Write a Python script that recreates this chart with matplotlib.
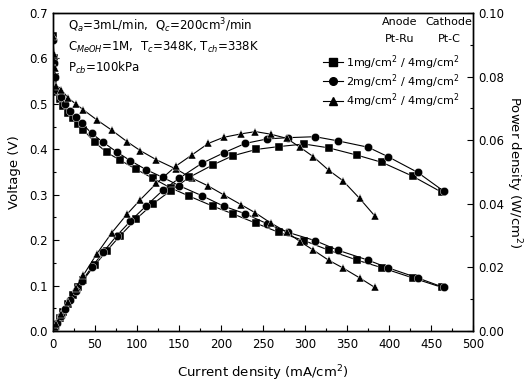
import matplotlib
matplotlib.use("Agg")
import matplotlib.pyplot as plt
from matplotlib.lines import Line2D
from matplotlib.ticker import MultipleLocator

# ---- data ----
series_labels = ["1mg/cm$^2$ / 4mg/cm$^2$", "2mg/cm$^2$ / 4mg/cm$^2$", "4mg/cm$^2$ / 4mg/cm$^2$"]
markers = ["s", "o", "^"]

I1 = [0, 1, 2, 4, 8, 12, 18, 24, 30, 36, 50, 64, 80, 99, 119, 140, 162, 190, 214, 242, 269, 299, 328, 362, 392, 428, 463]
V1 = [0.65, 0.60, 0.56, 0.525, 0.51, 0.495, 0.48, 0.468, 0.455, 0.443, 0.415, 0.393, 0.376, 0.356, 0.336, 0.315, 0.297, 0.275, 0.258, 0.237, 0.217, 0.199, 0.178, 0.156, 0.139, 0.117, 0.096]
P1 = [0.0, 0.0006, 0.0011, 0.0021, 0.0041, 0.0059, 0.0086, 0.0112, 0.0137, 0.016, 0.0208, 0.0252, 0.030, 0.0352, 0.040, 0.0441, 0.0483, 0.0522, 0.0551, 0.0571, 0.058, 0.0588, 0.0576, 0.0553, 0.053, 0.0487, 0.0436]

I2 = [0, 1, 2, 5, 9, 14, 20, 27, 34, 46, 60, 76, 92, 111, 131, 150, 177, 203, 229, 255, 280, 312, 339, 375, 399, 434, 465]
V2 = [0.64, 0.59, 0.56, 0.53, 0.515, 0.50, 0.485, 0.47, 0.458, 0.435, 0.415, 0.394, 0.375, 0.355, 0.338, 0.32, 0.298, 0.275, 0.258, 0.236, 0.217, 0.199, 0.178, 0.156, 0.139, 0.117, 0.096]
P2 = [0.0, 0.0006, 0.0011, 0.0026, 0.0046, 0.007, 0.0097, 0.0127, 0.0156, 0.020, 0.0249, 0.030, 0.0345, 0.0394, 0.0443, 0.048, 0.0527, 0.056, 0.059, 0.0604, 0.0608, 0.0611, 0.0598, 0.0578, 0.0548, 0.0499, 0.044]

I3 = [0, 1, 2, 4, 10, 18, 27, 36, 52, 70, 88, 104, 123, 147, 165, 185, 203, 224, 241, 259, 278, 294, 310, 328, 345, 365, 383]
V3 = [0.65, 0.61, 0.58, 0.54, 0.531, 0.513, 0.50, 0.487, 0.465, 0.442, 0.417, 0.397, 0.377, 0.356, 0.337, 0.319, 0.30, 0.278, 0.26, 0.238, 0.218, 0.197, 0.178, 0.156, 0.139, 0.117, 0.096]
P3 = [0.0, 0.0006, 0.0012, 0.0022, 0.0053, 0.0092, 0.0135, 0.0175, 0.0242, 0.0309, 0.0367, 0.0413, 0.0464, 0.052, 0.0553, 0.059, 0.0609, 0.062, 0.0627, 0.0619, 0.0606, 0.0578, 0.0548, 0.0506, 0.0473, 0.0417, 0.0362]

currents = [I1, I2, I3]
voltages = [V1, V2, V3]
powers = [P1, P2, P3]

plt.rcParams['font.family'] = ['DejaVu Sans']
plt.rcParams['mathtext.fontset'] = 'dejavusans'

W, H = 526, 385
fig = plt.figure(figsize=(W/100, H/100), dpi=100)
ax = fig.add_axes([53/W, 1-331/H, 420/W, 318/H])
ax2 = ax.twinx()

for I, V, P, m in zip(currents, voltages, powers, markers):
    kw = dict(color='black', lw=0.8, marker=m, ms=6, mfc='black', mec='white', mew=0.3)
    ax.plot(I, V, **kw)
    ax2.plot(I, P, **kw)

ax.set_xlim(0, 500)
ax.set_ylim(0, 0.7)
ax2.set_ylim(0, 0.10)

ax.xaxis.set_major_locator(MultipleLocator(50))
ax.xaxis.set_minor_locator(MultipleLocator(25))
ax.yaxis.set_major_locator(MultipleLocator(0.1))
ax.yaxis.set_minor_locator(MultipleLocator(0.05))
ax2.yaxis.set_major_locator(MultipleLocator(0.02))
ax2.yaxis.set_minor_locator(MultipleLocator(0.01))
ax.yaxis.set_major_formatter(plt.FormatStrFormatter('%.1f'))
ax2.yaxis.set_major_formatter(plt.FormatStrFormatter('%.2f'))

for a in (ax, ax2):
    a.tick_params(which='both', direction='in', labelsize=8.5, width=0.8)
    a.tick_params(which='major', length=4)
    a.tick_params(which='minor', length=2)
    for s in a.spines.values():
        s.set_linewidth(1.0)
ax.tick_params(axis='x', pad=5)

ax.set_xlabel("Current density (mA/cm$^2$)", fontsize=9.5, labelpad=9)
ax.set_ylabel("Voltage (V)", fontsize=9.5, labelpad=6)
ax2.set_ylabel("Power density (W/cm$^2$)", fontsize=9.5, rotation=270, labelpad=14)

# condition annotations
ft = fig.transFigure
ax.text(68/W, 1-26/H, "Q$_a$=3mL/min,  Q$_c$=200cm$^3$/min", transform=ft, fontsize=8.5, va='center')
ax.text(68/W, 1-47/H, "C$_{MeOH}$=1M,  T$_c$=348K, T$_{ch}$=338K", transform=ft, fontsize=8.5, va='center')
ax.text(68/W, 1-68/H, "P$_{cb}$=100kPa", transform=ft, fontsize=8.5, va='center')

# legend
ax.text(400/W, 1-22/H, "Anode", transform=ft, fontsize=8, ha='center', va='center')
ax.text(449/W, 1-22/H, "Cathode", transform=ft, fontsize=8, ha='center', va='center')
ax.text(400/W, 1-39/H, "Pt-Ru", transform=ft, fontsize=8, ha='center', va='center')
ax.text(449/W, 1-39/H, "Pt-C", transform=ft, fontsize=8, ha='center', va='center')
handles = [Line2D([], [], color='black', lw=0.8, marker=m, ms=5.5, mfc='black', mec='black') for m in markers]
leg = ax.legend(handles, series_labels, loc='upper left', bbox_to_anchor=(323/W, 1-53/H),
                bbox_transform=ft, frameon=False, fontsize=8, handlelength=1.8,
                handletextpad=0.3, labelspacing=0.05, borderpad=0, borderaxespad=0)

fig.savefig("out.png", dpi=100)
